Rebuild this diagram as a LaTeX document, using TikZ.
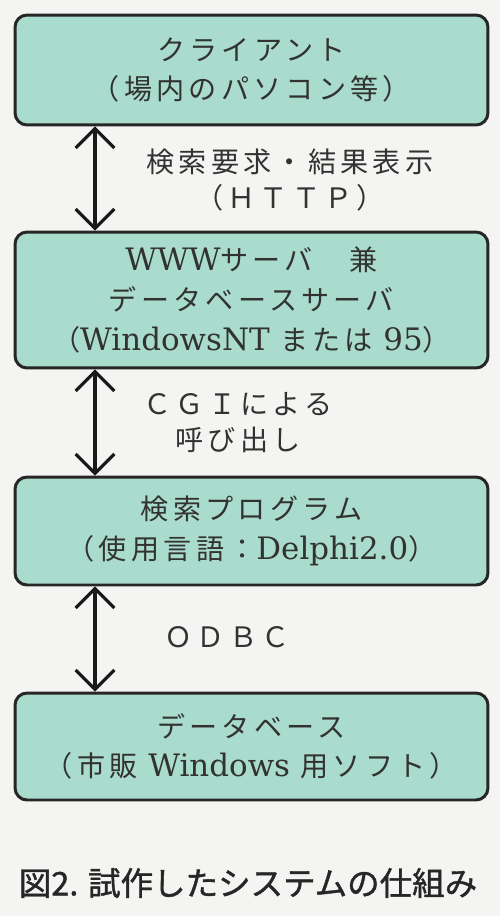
\documentclass[tikz,border=0pt]{standalone}
\usepackage{fontspec}
\setmainfont{DejaVu Serif}[Scale=1.1]
\newfontfamily\jp{Noto Sans CJK JP}[LetterSpace=15]
\newfontfamily\jpcap{Noto Sans CJK JP}[AutoFakeBold=1.2]
\usetikzlibrary{arrows.meta}
\definecolor{mint}{RGB}{170,220,205}
\definecolor{paper}{RGB}{244,244,242}
\definecolor{ink}{RGB}{50,50,50}
\newcommand{\latn}[1]{{\rmfamily #1}}
\tikzset{bx/.append style={draw=black!85, line width=1.7pt, fill=mint, rounded corners=0.24cm,
  minimum width=9.46cm, align=center, text=ink, font=\jp\fontsize{16pt}{22.5pt}\selectfont}}
\tikzset{link/.append style={draw=black!90, >={Straight Barb[length=11pt,width=22pt,line width=1.8pt]}, <->}}
\tikzset{lb/.append style={align=center, text=ink, font=\jp\fontsize{16pt}{20.5pt}\selectfont}}

\begin{document}
\begin{tikzpicture}[x=0.02cm,y=-0.02cm]
                % paper
                \fill[paper] (0,0) rectangle (500,916);
                \useasboundingbox (0,0) rectangle (500,916);
                \node[bx, minimum height=2.2cm] (cl) at (251.5,70) {クライアント\\（場内のパソコン等）};
                \node[bx, minimum height=2.72cm] (srv) at (251.5,300) {\latn{WWW}サーバ　兼\\データベースサーバ\\（\latn{WindowsNT} または \latn{95}）};
                \node[bx, minimum height=2.16cm] (prg) at (251.5,531) {検索プログラム\\（使用言語：\latn{Delphi2.0}）};
                \node[bx, minimum height=2.14cm] (db) at (251.5,746.5) {データベース\\（市販 \latn{Windows} 用ソフト）};
                \coordinate (ax) at (95,0);
                \draw[link, line width=1.8pt] (cl.south -| ax) -- (srv.north -| ax);
                \draw[link, line width=1.8pt] (srv.south -| ax) -- (prg.north -| ax);
                \draw[link, line width=1.8pt] (prg.south -| ax) -- (db.north -| ax);
                \node[lb] (http) at (290,180) {検索要求・結果表示\\（ＨＴＴＰ）};
                \node[lb] (cgi) at (238,423) {ＣＧＩによる\\呼び出し};
                \node[lb] (odbc) at (227,637) {ＯＤＢＣ};
                \node[font=\jpcap\bfseries\fontsize{18.5pt}{20pt}\selectfont, text=black!85] (cap) at (248,883) {図2. 試作したシステムの仕組み};
            \end{tikzpicture}
\end{document}
